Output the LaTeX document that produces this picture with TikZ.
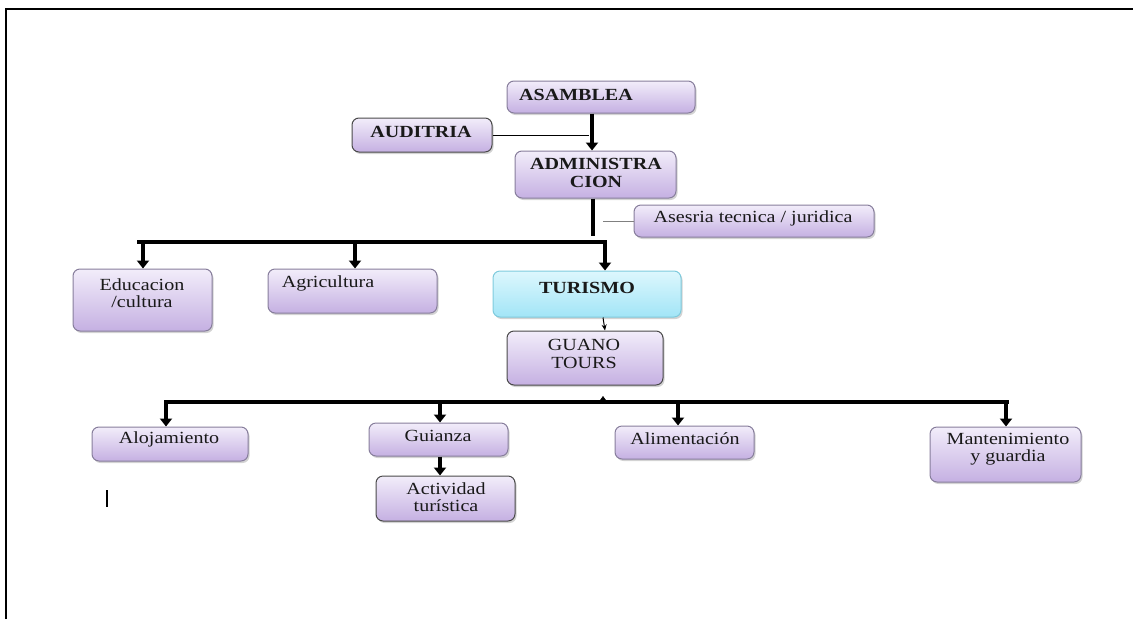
\documentclass[tikz,border=0pt]{standalone}
\usepackage{fontspec}
\setmainfont{Liberation Serif}[FakeStretch=1.18]
\usetikzlibrary{arrows.meta,shadows,fit}
\definecolor{lavA}{HTML}{F2EDFA}
\definecolor{lavB}{HTML}{C5B0E2}
\definecolor{cyA}{HTML}{DDF7FD}
\definecolor{cyB}{HTML}{A2E5F7}
\definecolor{edgeL}{HTML}{877E9C}
\definecolor{edgeD}{HTML}{4A4A4A}
\definecolor{edgeC}{HTML}{7FCBDD}
\tikzset{
  box/.style={draw=edgeL, line width=1pt, rounded corners=7pt, top color=lavA, bottom color=lavB,
    inner sep=0pt, drop shadow={shadow xshift=1.5pt, shadow yshift=-2pt, opacity=.35}},
  darkbox/.style={box, draw=edgeD},
  cyanbox/.style={box, draw=edgeC, top color=cyA, bottom color=cyB},
  lbl/.style={font=\fontsize{17}{17.5}\selectfont, align=center, inner sep=0pt, text=black!90},
  blbl/.style={lbl, font=\fontsize{17}{17.5}\selectfont\bfseries},
  heavy/.style={line width=4pt},
  harrow/.style={line width=4pt, -{Triangle[width=12pt,length=8pt]}},
}
\begin{document}
\begin{tikzpicture}[x=1pt,y=-1pt]
\useasboundingbox (0,0) rectangle (1133,619);
% frame
\draw[line width=2pt] (5.5,619) -- (5.5,8.5) -- (1133,8.5);

% boxes
\node[box, fit={(507,81)(695,113)}] (asam) {};
\node[blbl] (tasam) at (576,95) {ASAMBLEA};
\node[darkbox, fit={(352,118)(492,152)}] (aud) {};
\node[blbl] (taud) at (421,132) {AUDITRIA};
\node[box, fit={(515,151)(676,198)}] (admin) {};
\node[blbl] (tadmin) at (596,173) {ADMINISTRA\\CION};
\node[box, fit={(634,205)(874,237)}] (ases) {};
\node[lbl] (tases) at (753,218) {Asesria tecnica / juridica};
\node[box, fit={(73,269)(212,331)}] (educ) {};
\node[lbl] (teduc) at (142,293) {Educacion\\/cultura};
\node[box, fit={(268,269)(437,313)}] (agri) {};
\node[lbl] (tagri) at (328,283) {Agricultura};
\node[cyanbox, fit={(493,271)(681,317)}] (tur) {};
\node[blbl] (ttur) at (587,288) {TURISMO};
\node[darkbox, fit={(507,331)(663,385)}] (guano) {};
\node[lbl] (tguano) at (584,354) {GUANO\\TOURS};
\node[box, fit={(92,427)(248,461)}] (aloj) {};
\node[lbl] (taloj) at (169,439) {Alojamiento};
\node[box, fit={(369,423)(508,456)}] (guia) {};
\node[lbl] (tguia) at (438,436) {Guianza};
\node[darkbox, fit={(376,476)(515,521)}] (act) {};
\node[lbl] (tact) at (446,497) {Actividad\\turística};
\node[box, fit={(615,426)(754,459)}] (alim) {};
\node[lbl] (talim) at (685,439) {Alimentación};
\node[box, fit={(930,427)(1081,482)}] (mant) {};
\node[lbl] (tmant) at (1008,449) {Mantenimiento\\y guardia};

% connectors top
\draw[harrow] ([xshift=-9pt]asam.south) -- ([xshift=-3.5pt]admin.north);
\draw[line width=1pt] (aud.east) -- ++(96,0);
\coordinate (adm1) at (593,236);
\draw[heavy] ([xshift=-2.5pt]admin.south) -- (adm1);
\draw[line width=1pt, gray] (ases.west) -- ++(-31,0);

\coordinate (b1L) at (137,242);
\coordinate (b1R) at (607,242);
\draw[heavy] (b1L) -- (b1R);
\coordinate (d1) at (143,242);
\coordinate (d2) at (355,242);
\coordinate (d3) at (605,242);
\draw[harrow] (d1) -- (d1 |- educ.north);
\draw[harrow] (d2) -- (d2 |- agri.north);
\draw[harrow] (d3) -- (d3 |- tur.north);

\draw[line width=1pt, -{Stealth[length=6pt,width=5pt]}] ([xshift=16pt]tur.south) -- ([xshift=20pt]guano.north);

% lower bar
\coordinate (b2L) at (164,402);
\coordinate (b2R) at (1009,402);
\draw[heavy] (b2L) -- (b2R);
\coordinate (g2) at (603,401);
\draw[line width=0.5pt, -{Triangle[width=7pt,length=5pt]}] (g2) -- ++(0,-5);
\coordinate (e1) at (166,402);
\coordinate (e2) at (440,402);
\coordinate (e3) at (678,402);
\coordinate (e4) at (1006,402);
\draw[harrow] (e1) -- (e1 |- aloj.north);
\draw[harrow] (e2) -- (e2 |- guia.north);
\draw[harrow] (e3) -- (e3 |- alim.north);
\draw[harrow] (e4) -- (e4 |- mant.north);
\draw[harrow] ([xshift=1.5pt]guia.south) -- ([xshift=-5.5pt]act.north);

% stray mark
\coordinate (m1) at (107,490);
\coordinate (m2) at (107,507);
\draw[line width=2pt] (m1) -- (m2);
\end{tikzpicture}
\end{document}
